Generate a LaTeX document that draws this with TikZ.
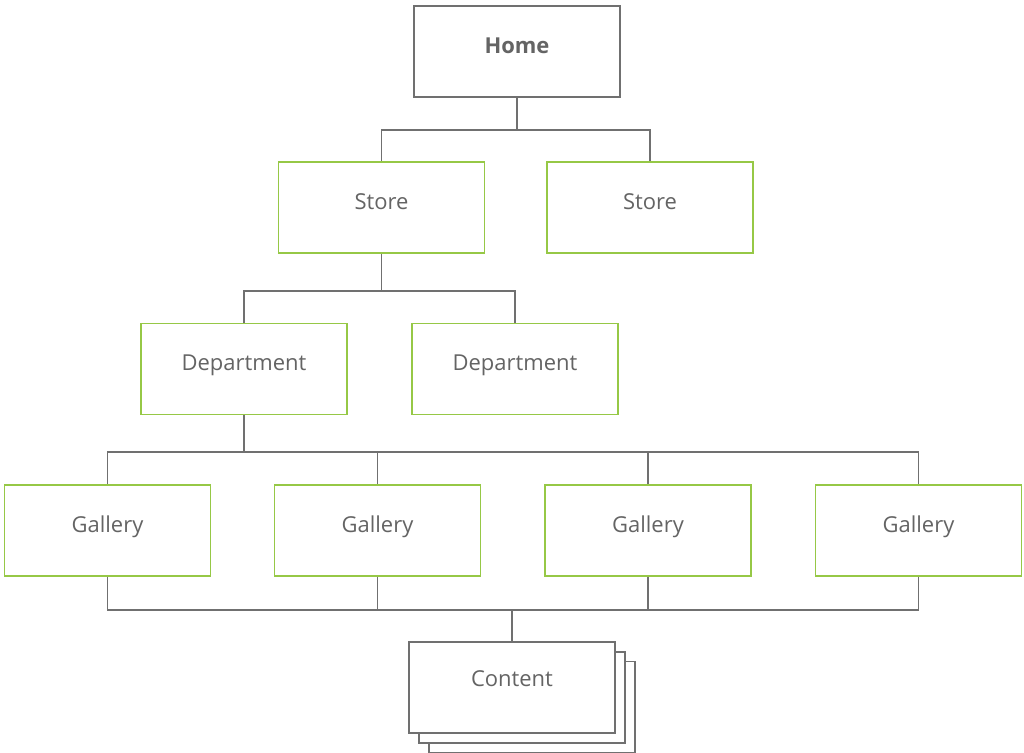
\documentclass[tikz,border=0pt]{standalone}
\usepackage{fontspec}
\setmainfont{Open Sans}
\definecolor{sitegray} {RGB}{112,112,112}
\definecolor{sitegreen}{RGB}{150,200,70}
\definecolor{sitetext} {RGB}{100,100,100}
\usetikzlibrary{positioning}
\begin{document}
\begin{tikzpicture}[
  x=0.02cm, y=-0.02cm,
  every node/.style={font=\fontsize{12.5}{15}\selectfont, text=sitetext},
  page/.style={rectangle, draw=sitegray, fill=white, line width=1.1pt,
               minimum width=4.12cm, minimum height=1.82cm, inner sep=0pt,
               text height=10pt, text depth=8pt},
  sect/.style={page, draw=sitegreen},
  link/.style={draw=sitegray, line width=1.1pt}
]
  \clip (0,0) rectangle (1024,753);
  \fill[white] (0,0) rectangle (1024,753);

  % top level
  \node[page, font=\fontsize{12.5}{15}\selectfont\bfseries] (home) at (517,51.5) {Home};

  % stores
  \node[sect] (store1) at (381.5,207.5) {Store};
  \node[sect] (store2) at (650,207.5) {Store};
  \coordinate (bar1) at (517,130);
  \draw[link] (home.south) -- (bar1);
  \draw[link] (store1.north) |- (bar1) -| (store2.north);

  % departments
  \node[sect] (dept1) at (244,369) {Department};
  \node[sect] (dept2) at (515,369) {Department};
  \coordinate (bar2) at (381.5,291);
  \draw[link] (store1.south) -- (bar2);
  \draw[link] (dept1.north) |- (bar2) -| (dept2.north);

  % galleries
  \node[sect] (gal1) at (107.5,530.5) {Gallery};
  \node[sect] (gal2) at (377.5,530.5) {Gallery};
  \node[sect] (gal3) at (648,530.5) {Gallery};
  \node[sect] (gal4) at (918.5,530.5) {Gallery};
  \coordinate (bar3) at (244,452);
  \draw[link] (dept1.south) -- (bar3);
  \draw[link] (gal1.north) |- (bar3) -| (gal4.north);
  \draw[link] (gal2.north) -- (gal2.north |- bar3);
  \draw[link] (gal3.north) -- (gal3.north |- bar3);

  % content stack
  \node[page] (content3) at (532,707) {};
  \node[page] (content2) at (522,697.5) {};
  \node[page, text depth=11pt] (content) at (512,687.5) {Content};
  \coordinate (bar4) at (512,610);
  \draw[link] (gal1.south) |- (bar4) -| (gal4.south);
  \draw[link] (gal2.south) -- (gal2.south |- bar4);
  \draw[link] (gal3.south) -- (gal3.south |- bar4);
  \draw[link] (bar4) -- (content.north);
\end{tikzpicture}
\end{document}
